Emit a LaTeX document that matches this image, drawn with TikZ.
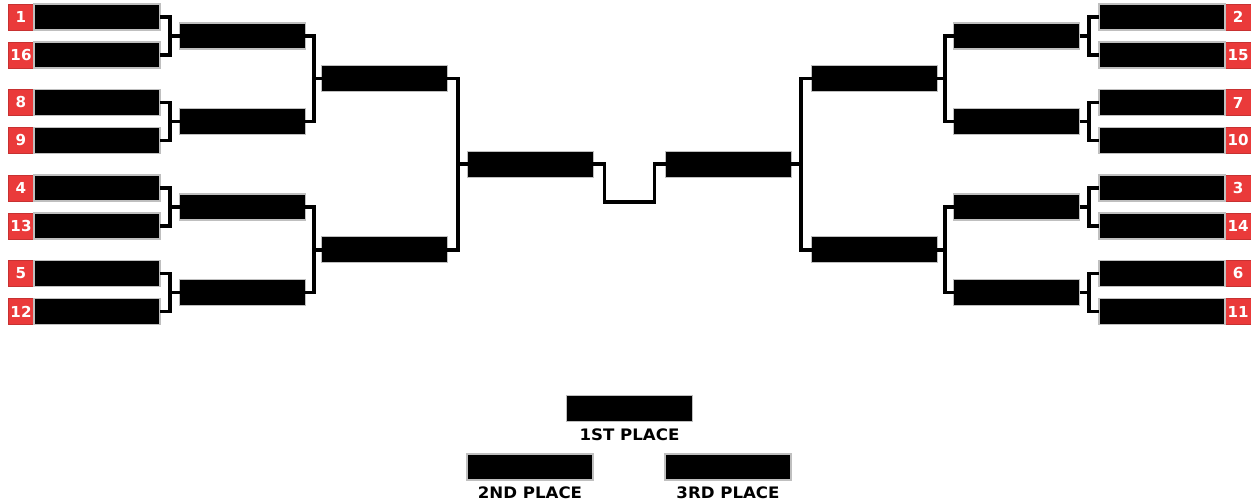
\documentclass[tikz,border=0pt]{standalone}
\usepackage{fontspec}
\usepackage{tikz}
\usetikzlibrary{positioning}
\newfontfamily\placefont[FakeStretch=1.05]{DejaVu Sans}
\newfontfamily\seedfont{DejaVu Sans}
\definecolor{seedred}{RGB}{234,58,58}

\begin{document}
\begin{tikzpicture}[x=0.02cm,y=-0.02cm,line width=2pt,line join=miter]
            % 设置节点样式
            \tikzset{team/.style={fill=black,draw=gray!50,line width=0.7pt,minimum width=2.52cm,minimum height=0.52cm,inner sep=0pt,outer sep=0pt},
                     seed/.style={fill=seedred,draw=seedred!85!black,line width=0.5pt,minimum size=0.52cm,inner sep=0pt,outer sep=0pt,text=white,font=\seedfont\bfseries\fontsize{8.6}{9}\selectfont},
                     place/.style={font=\placefont\bfseries\fontsize{9}{10}\selectfont,inner sep=2pt}}
            \useasboundingbox (0,0) rectangle (1251,502);

            % 第一轮
            \foreach \s/\y [count=\i] in {1/17,16/55,8/102.5,9/140.5,4/188,13/226,5/273.5,12/311.5} {
                \node[seed] (ls\i) at (21,\y) {\s};
                \node[team,right=0pt of ls\i] (lt\i) {};
            }
            \foreach \s/\y [count=\i] in {2/17,15/55,7/102.5,10/140.5,3/188,14/226,6/273.5,11/311.5} {
                \node[seed] (rs\i) at (1238,\y) {\s};
                \node[team,left=0pt of rs\i] (rt\i) {};
            }

            % 第二轮
            \foreach \y [count=\i] in {36,121.5,207,292.5} {
                \node[team] (lb\i) at (242.5,\y) {};
                \node[team] (rb\i) at (1016.5,\y) {};
            }

            % 第三轮
            \node[team] (lc1) at (384.5,78.75) {};
            \node[team] (lc2) at (384.5,249.75) {};
            \node[team] (rc1) at (874.5,78.75) {};
            \node[team] (rc2) at (874.5,249.75) {};

            % 半决赛
            \node[team] (ld) at (530.5,164.25) {};
            \node[team] (rd) at (728.5,164.25) {};

            % 名次
            \node[team] (p1) at (629.5,408.5) {};
            \node[place,below=1pt of p1] (p1t) {1ST PLACE};
            \node[team] (p2) at (530,467) {};
            \node[place,below=1pt of p2] (p2t) {2ND PLACE};
            \node[team] (p3) at (728,467) {};
            \node[place,below=1pt of p3] (p3t) {3RD PLACE};

            % 连线
            \foreach \a/\b/\w in {1/2/1,3/4/2,5/6/3,7/8/4} {
                \draw (lt\a.east) -- ++(10,0) |- (lt\b.east);
                \draw (lb\w.west) -- ++(-10,0);
                \draw (rt\a.west) -- ++(-10,0) |- (rt\b.west);
                \draw (rb\w.east) -- ++(10,0);
            }
            \foreach \a/\b/\w in {1/2/1,3/4/2} {
                \draw (lb\a.east) -- ++(8.5,0) |- (lb\b.east);
                \draw (lc\w.west) -- ++(-8.5,0);
                \draw (rb\a.west) -- ++(-8.5,0) |- (rb\b.west);
                \draw (rc\w.east) -- ++(8.5,0);
            }
            \draw (lc1.east) -- ++(10.5,0) |- (lc2.east);
            \draw (ld.west) -- ++(-10.5,0);
            \draw (rc1.west) -- ++(-10.5,0) |- (rc2.west);
            \draw (rd.east) -- ++(10.5,0);
            \draw (ld.east) -- ++(11,0) -- ++(0,38) -- ++(50,0) |- (rd.west);
        \end{tikzpicture}
\end{document}
